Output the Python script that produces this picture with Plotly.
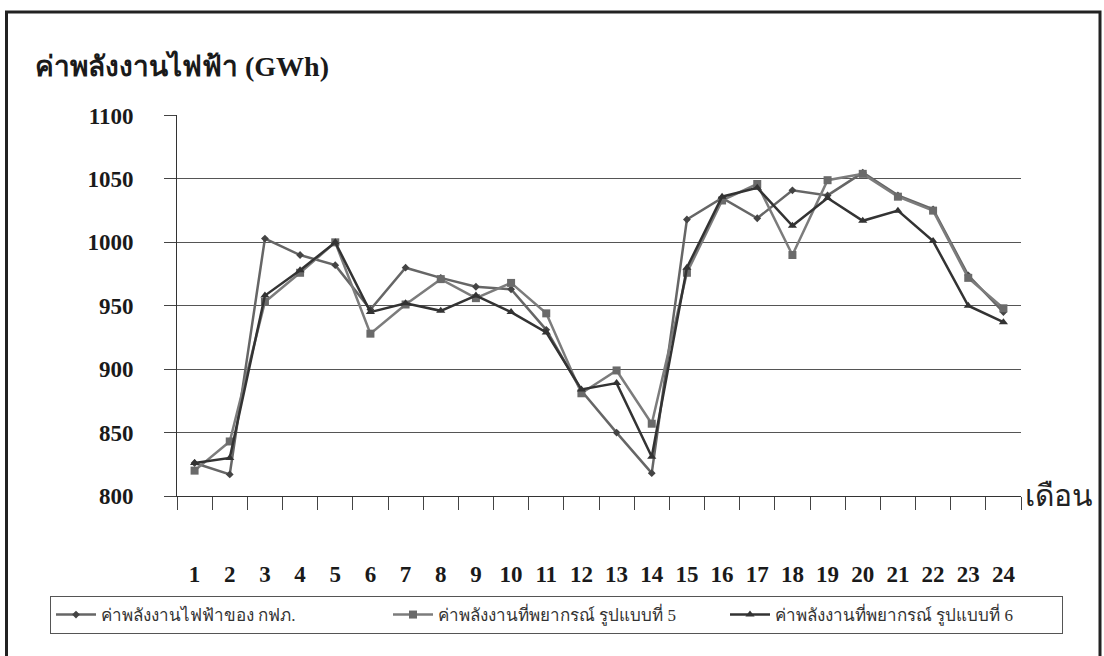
import plotly.graph_objects as go

months = [str(i) for i in range(1, 25)]
actual = [826, 817, 1003, 990, 982, 947, 980, 972, 965, 963, 931, 883,
          850, 818, 1018, 1035, 1019, 1041, 1037, 1055, 1037, 1026, 974, 945]
model5 = [820, 843, 953, 976, 1000, 928, 951, 971, 956, 968, 944, 881,
          899, 857, 976, 1033, 1046, 990, 1049, 1054, 1036, 1025, 972, 948]
model6 = [826, 830, 958, 978, 1000, 945, 952, 946, 958, 945, 929, 884,
          889, 831, 980, 1036, 1043, 1013, 1035, 1017, 1025, 1001, 950, 937]
names = ["ค่าพลังงานไฟฟ้าของ กฟภ.",
         "ค่าพลังงานที่พยากรณ์ รูปแบบที่ 5",
         "ค่าพลังงานที่พยากรณ์ รูปแบบที่ 6"]
yticks = [800, 850, 900, 950, 1000, 1050, 1100]

serif = "Liberation Serif, DejaVu Serif, Noto Sans, serif"

fig = go.Figure()
fig.add_trace(go.Scatter(x=months, y=actual, name=names[0], mode="lines+markers",
                         line=dict(color="#666666", width=2.5),
                         marker=dict(symbol="diamond", size=6, color="#444444")))
fig.add_trace(go.Scatter(x=months, y=model5, name=names[1], mode="lines+markers",
                         line=dict(color="#7c7c7c", width=2.5),
                         marker=dict(symbol="square", size=8, color="#6a6a6a")))
fig.add_trace(go.Scatter(x=months, y=model6, name=names[2], mode="lines+markers",
                         line=dict(color="#333333", width=2.5),
                         marker=dict(symbol="triangle-up", size=8, color="#333333")))

L, R, T, B = 177, 1021, 115, 496
W, H = 1104, 656

def px(x):
    return (x - L) / (R - L)

def py(y):
    return (B - y) / (B - T)

tickfont = dict(size=23, family=serif, color="#1a1a1a", weight="bold")

fig.update_layout(
    width=W, height=H,
    margin=dict(l=L, r=W - R, t=T, b=H - B, autoexpand=False),
    paper_bgcolor="white", plot_bgcolor="white",
    font=dict(family=serif, color="#222222"),
    showlegend=True,
    legend=dict(orientation="h", x=px(50), xanchor="left", y=py(596), yanchor="top",
                bordercolor="#555555", borderwidth=1, bgcolor="white",
                font=dict(size=17, family=serif, color="#333333"),
                entrywidth=282, itemwidth=40),
    xaxis=dict(type="category", showgrid=False, showline=True, linecolor="#333333",
               linewidth=1, ticks="outside", tickson="boundaries", ticklen=13,
               tickcolor="#444444", tickfont=tickfont,
               ticklabelstandoff=57, range=[-0.5, 23.5], zeroline=False),
    yaxis=dict(range=[800, 1100.4], tickvals=yticks, showgrid=True, gridcolor="#555555",
               gridwidth=1, showline=True, linecolor="#333333", linewidth=1,
               ticks="outside", ticklen=12, tickcolor="#444444",
               tickfont=tickfont, ticklabelstandoff=26, zeroline=False),
    shapes=[dict(type="rect", xref="paper", yref="paper",
                 x0=px(6.5), x1=px(1100), y0=py(720), y1=py(12),
                 line=dict(color="#222222", width=3), fillcolor="rgba(0,0,0,0)",
                 layer="below")],
    annotations=[
        dict(text="<b>ค่าพลังงานไฟฟ้า (GWh)</b>", xref="paper", yref="paper",
             x=px(33), y=py(66), xanchor="left", yanchor="middle", showarrow=False,
             font=dict(size=28, family=serif, color="#1a1a1a")),
        dict(text="เดือน", xref="paper", yref="paper",
             x=px(1023), y=py(494), xanchor="left", yanchor="middle", showarrow=False,
             font=dict(size=30, family="Noto Sans, DejaVu Sans, sans-serif", color="#222222")),
    ],
)
fig.write_html(
    "out.html",
    config={"displayModeBar": False},
    post_script="document.body.style.margin='0';document.body.style.overflow='hidden';",
)
